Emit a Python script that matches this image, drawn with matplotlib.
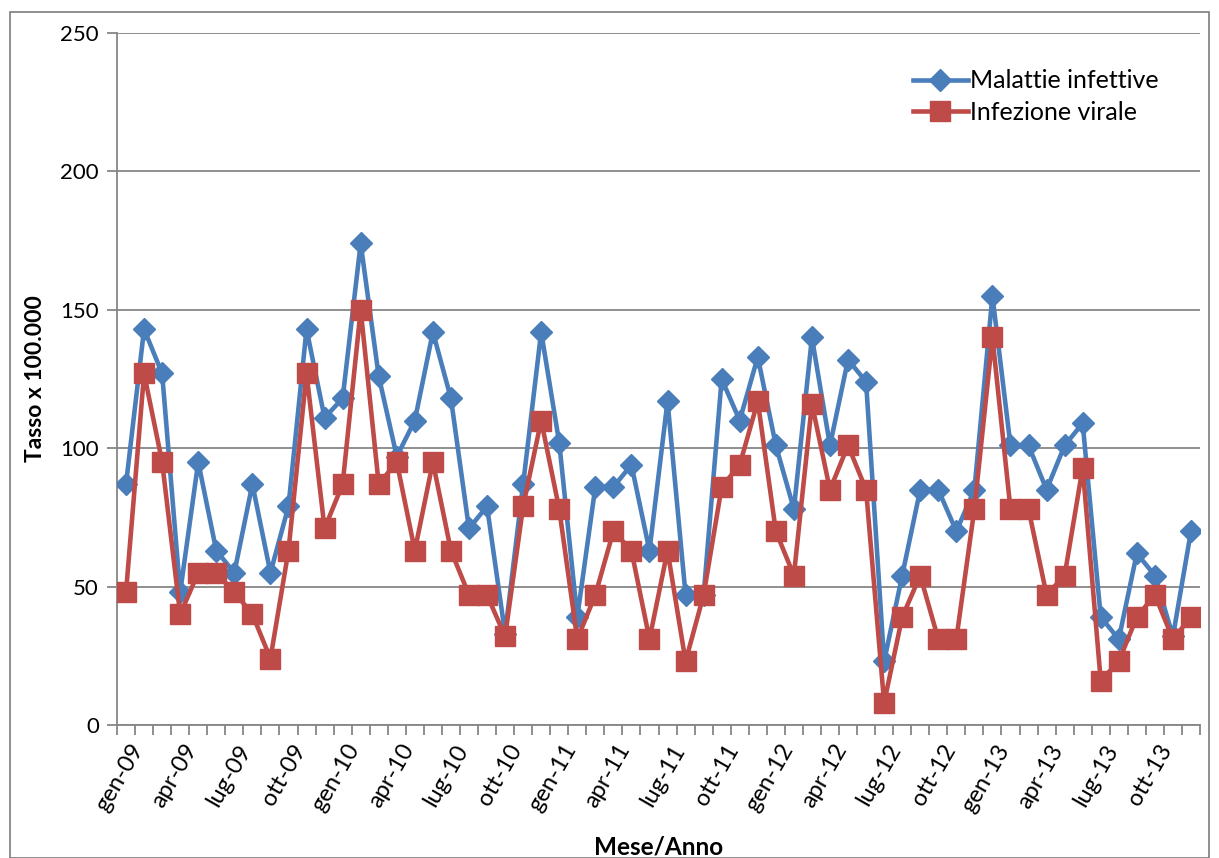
import numpy as np
import matplotlib
matplotlib.use("Agg")
import matplotlib.pyplot as plt
from matplotlib.patches import Rectangle
from matplotlib.ticker import FixedLocator
from matplotlib.transforms import ScaledTranslation

plt.rcParams['font.family'] = ['Lato', 'DejaVu Sans']

# mesi gen-09 .. dic-13
mesi_nomi = ["gen", "feb", "mar", "apr", "mag", "giu",
             "lug", "ago", "set", "ott", "nov", "dic"]
anni = ["09", "10", "11", "12", "13"]
mesi = [m + "-" + a for a in anni for m in mesi_nomi]

malattie_infettive = [87, 143, 127, 48, 95, 63, 55, 87, 55, 79, 143, 111,
                      118, 174, 126, 97, 110, 142, 118, 71, 79, 33, 87, 142,
                      102, 39, 86, 86, 94, 63, 117, 47, 47, 125, 110, 133,
                      101, 78, 140, 101, 132, 124, 23, 54, 85, 85, 70, 85,
                      155, 101, 101, 85, 101, 109, 39, 31, 62, 54, 32, 70]
infezione_virale = [48, 127, 95, 40, 55, 55, 48, 40, 24, 63, 127, 71,
                    87, 150, 87, 95, 63, 95, 63, 47, 47, 32, 79, 110,
                    78, 31, 47, 70, 63, 31, 63, 23, 47, 86, 94, 117,
                    70, 54, 116, 85, 101, 85, 8, 39, 54, 31, 31, 78,
                    140, 78, 78, 47, 54, 93, 16, 23, 39, 47, 31, 39]

blu = "#4A7EBB"
rosso = "#BE4B48"
grigio = "#868686"

fig = plt.figure(figsize=(12.19, 8.58), dpi=100)
ax = fig.add_axes([117 / 1219, 1 - 725 / 858, (1200 - 117) / 1219, (725 - 33) / 858])

x = np.arange(len(mesi))
ax.plot(x, malattie_infettive, color=blu, lw=3.3, marker="D", ms=11.5,
        label="Malattie infettive", zorder=3)
ax.plot(x, infezione_virale, color=rosso, lw=3.3, marker="s", ms=14,
        label="Infezione virale", zorder=4)

ax.set_xlim(-0.5, len(mesi) - 0.5)
ax.set_ylim(0, 250)
ax.set_yticks([0, 50, 100, 150, 200, 250])
ax.yaxis.grid(True, color=grigio, lw=1.3)
ax.set_axisbelow(True)

ax.set_xticks(x[::3])
ax.set_xticklabels(mesi[::3], rotation=60, ha="right", va="center",
                   rotation_mode="anchor")
ax.xaxis.set_minor_locator(FixedLocator(np.arange(-0.5, len(mesi), 1)))
ax.tick_params(axis="x", which="major", length=0, pad=15, labelsize=17)
ax.tick_params(axis="x", which="minor", length=7, width=1.3, color=grigio)
ax.tick_params(axis="y", length=7, width=1.3, color=grigio, labelsize=16, pad=6)

# etichette spostate a destra come in Excel
sposta = ScaledTranslation(12 / 100, 0, fig.dpi_scale_trans)
for lab in ax.get_xticklabels():
    lab.set_transform(lab.get_transform() + sposta)

for s in ["top", "right"]:
    ax.spines[s].set_visible(False)
for s in ["left", "bottom"]:
    ax.spines[s].set_color(grigio)
    ax.spines[s].set_linewidth(1.3)

ax.set_ylabel("Tasso x 100.000", fontsize=16.5, fontweight="bold", labelpad=10)
ax.set_xlabel("Mese/Anno", fontsize=17.5, fontweight="bold", labelpad=14)

ax.legend(loc="upper right", bbox_to_anchor=(0.983, 0.98), frameon=False,
          fontsize=18, handlelength=2.2, handletextpad=0.1, labelspacing=0.35)

# bordo dell'area grafico
fig.add_artist(Rectangle((10 / 1219, 0), 1 - 20 / 1219, 1 - 12 / 858,
                         transform=fig.transFigure, fill=False,
                         edgecolor=grigio, lw=1.3))

fig.savefig("out.png", dpi=100)
